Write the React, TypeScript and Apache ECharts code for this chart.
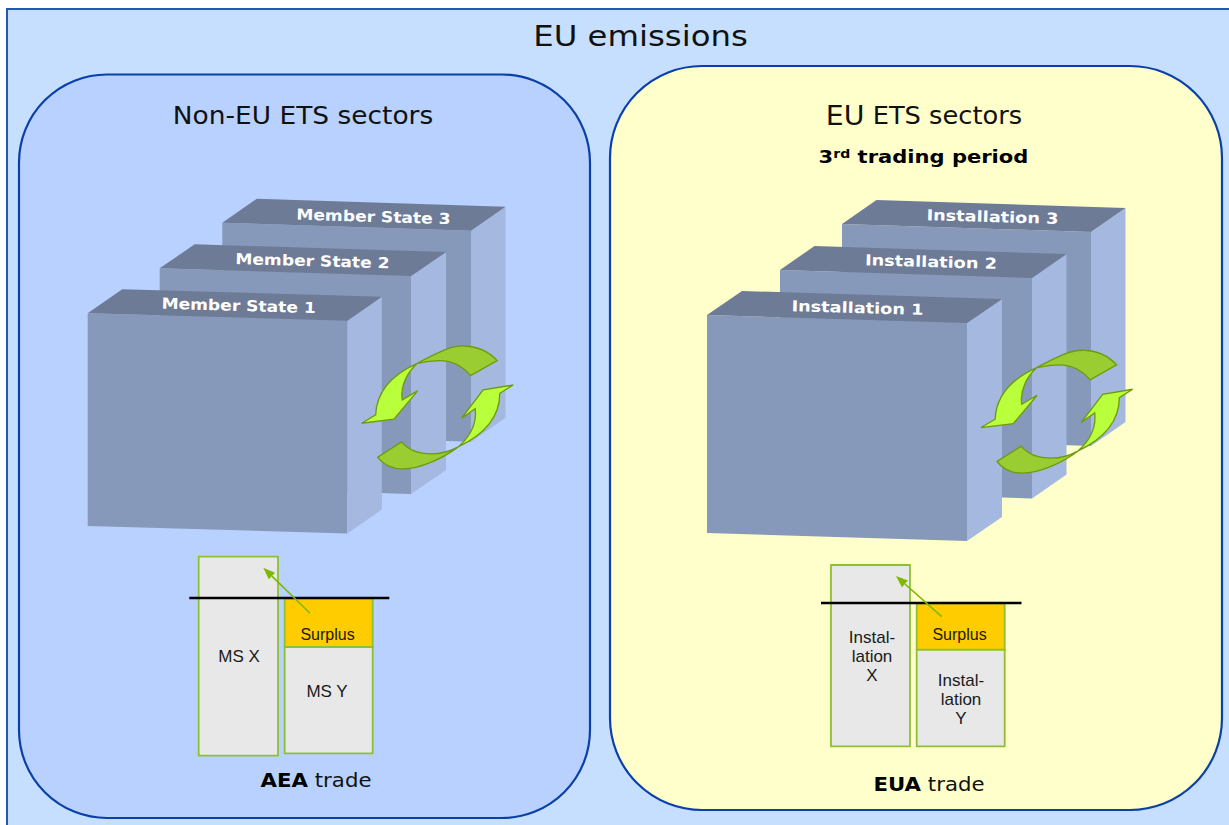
import React, { useEffect, useRef } from "react";
import * as echarts from "echarts";

const mainTitle = "EU emissions";
const leftTitle = "Non-EU ETS sectors";
const rightTitleHead = "EU";
const rightTitleTail = " ETS sectors";
const periodOrdinal = "3";
const periodSuffix = "rd";
const periodName = " trading period";
const memberStates = ["Member State 1", "Member State 2", "Member State 3"];
const installations = ["Installation 1", "Installation 2", "Installation 3"];
const surplusLabel = "Surplus";
const msLabels = ["MS X", "MS Y"];
const installXLines = ["Instal-", "lation", "X"];
const installYLines = ["Instal-", "lation", "Y"];
const tradeNames = ["AEA", "EUA"];
const tradeWord = " trade";

const arrowDarkUpper = "M232 100 C 280 75 330 45 375 48 C 420 50 450 68 472 92 L 392 137 C 365 105 335 92 300 92 C 275 92 250 96 232 100 Z";
const arrowLightUpper = "M232 100 C 165 130 110 180 107 255 L 65 280 L 162 268 L 233 183 L 187 210 C 180 165 205 125 232 100 Z";
const arrowDarkLower = "M355 351 C 310 385 240 417 190 417 C 160 418 130 405 113 382 L 185 336 C 205 360 240 372 275 372 C 305 372 335 362 355 351 Z";
const arrowLightLower = "M355 351 C 410 325 480 280 480 190 L 520 165 L 430 180 L 365 265 L 406 236 C 412 285 385 325 355 351 Z";

echarts.graphic.registerShape("arrowDarkUpper", echarts.graphic.extendPath(arrowDarkUpper, {}));
echarts.graphic.registerShape("arrowLightUpper", echarts.graphic.extendPath(arrowLightUpper, {}));
echarts.graphic.registerShape("arrowDarkLower", echarts.graphic.extendPath(arrowDarkLower, {}));
echarts.graphic.registerShape("arrowLightLower", echarts.graphic.extendPath(arrowLightLower, {}));

const VERDANA = "'DejaVu Sans', Verdana, sans-serif";
const ARIAL = "'Liberation Sans', Arial, sans-serif";

function poly(points: number[][], fill: string) {
  return { type: "polygon", shape: { points }, style: { fill } };
}

function box(x0: number, y0: number, x1: number, y1: number, h: number, dx: number, dy: number) {
  return [
    poly([[x0, y0], [x1, y1], [x1, y1 + h], [x0, y0 + h]], "#8799ba"),
    poly([[x1, y1], [x1 + dx, y1 - dy], [x1 + dx, y1 - dy + h], [x1, y1 + h]], "#a4b8e0"),
    poly([[x0, y0], [x0 + dx, y0 - dy], [x1 + dx, y1 - dy], [x1, y1]], "#6d7b97"),
  ];
}

function label(text: string, x: number, y: number, size = 17, font = ARIAL, color = "#1a1a1a", weight: any = "normal", rotation = 0, scaleX = 1) {
  return {
    type: "text",
    x,
    y,
    rotation,
    scaleX,
    style: { text, x: 0, y: 0, fill: color, font: `${weight} ${size}px ${font}`, align: "center", verticalAlign: "middle" },
  };
}

function arrows(x: number, y: number) {
  const common = { x, y, scaleX: 1 / 3, scaleY: 1 / 3 };
  const stroke = { stroke: "#6f9a10", lineWidth: 4 };
  return [
    { type: "arrowDarkUpper", ...common, style: { fill: "#9acd32", ...stroke } },
    { type: "arrowLightUpper", ...common, style: { fill: "#b9ff3c", ...stroke } },
    { type: "arrowDarkLower", ...common, style: { fill: "#9acd32", ...stroke } },
    { type: "arrowLightLower", ...common, style: { fill: "#b9ff3c", ...stroke } },
  ];
}

function barRect(x: number, y: number, w: number, h: number, fill: string) {
  return { type: "rect", shape: { x, y, width: w, height: h }, style: { fill, stroke: "#8fc031", lineWidth: 1.8 } };
}

function thinArrow(x0: number, y0: number, x1: number, y1: number) {
  const a = Math.atan2(y1 - y0, x1 - x0);
  const len = 12;
  const wid = 4.5;
  const bx = x1 - Math.cos(a) * len;
  const by = y1 - Math.sin(a) * len;
  const nx = -Math.sin(a) * wid;
  const ny = Math.cos(a) * wid;
  return [
    { type: "line", shape: { x1: x0, y1: y0, x2: bx, y2: by }, style: { stroke: "#7fb800", lineWidth: 1.6 } },
    poly([[x1, y1], [bx + nx, by + ny], [bx - nx, by - ny]], "#7fb800"),
  ];
}

function blackLine(x0: number, x1: number, y: number) {
  return { type: "line", shape: { x1: x0, y1: y, x2: x1, y2: y }, style: { stroke: "#000000", lineWidth: 2.6 } };
}

function tradeLabel(bold: string, x: number, y: number) {
  return {
    type: "text",
    x,
    y,
    scaleX: 1.12,
    style: {
      text: `{b|${bold}}{r|${tradeWord}}`,
      align: "center",
      verticalAlign: "middle",
      rich: {
        b: { font: `bold 19px ${VERDANA}`, fill: "#000" },
        r: { font: `normal 19px ${VERDANA}`, fill: "#111" },
      },
    },
  };
}

const TILT = -0.029;
const white = "#ffffff";

function buildGraphic() {
  return [
    { type: "rect", shape: { x: 7, y: 9, width: 1240, height: 840 }, style: { fill: "#c6dfff", stroke: "#2058b4", lineWidth: 2 } },
    { type: "rect", shape: { x: 19, y: 74.5, width: 571, height: 743.5, r: 88 }, style: { fill: "#b8d1ff", stroke: "#0a40a8", lineWidth: 2.2 } },
    { type: "rect", shape: { x: 610, y: 66, width: 612, height: 744, r: 92 }, style: { fill: "#ffffcc", stroke: "#0a40a8", lineWidth: 2.2 } },

    label(mainTitle, 640.5, 36, 29, VERDANA, "#111", "normal", 0, 1.115),
    label(leftTitle, 303, 115, 25, VERDANA, "#111", "normal", 0, 1.057),
    {
      type: "text",
      x: 924,
      y: 115.5,
      scaleX: 1.05,
      style: {
        text: `{e|${rightTitleHead}}{t|${rightTitleTail}}`,
        align: "center",
        verticalAlign: "middle",
        rich: {
          e: { font: `normal 27px ${VERDANA}`, fill: "#111" },
          t: { font: `normal 24.5px ${VERDANA}`, fill: "#111" },
        },
      },
    },
    {
      type: "text",
      x: 923.5,
      y: 157,
      scaleX: 1.17,
      style: {
        text: `{a|${periodOrdinal}}{s|${periodSuffix}}{a|${periodName}}`,
        align: "center",
        verticalAlign: "middle",
        rich: {
          a: { font: `bold 18px ${VERDANA}`, fill: "#000" },
          s: { font: `bold 12px ${VERDANA}`, fill: "#000", verticalAlign: "top" },
        },
      },
    },

    // left stacks
    ...box(222.3, 222.7, 471, 230.7, 211, 34.5, 24),
    ...box(159.7, 268.3, 411, 276, 218, 35, 24),
    ...box(87.7, 313.3, 347.3, 320.7, 212.7, 34.5, 24),
    label(memberStates[2], 373.5, 216.7, 15, VERDANA, white, "bold", TILT, 1.14),
    label(memberStates[1], 312.5, 261, 15, VERDANA, white, "bold", TILT, 1.14),
    label(memberStates[0], 238.7, 305.7, 15, VERDANA, white, "bold", TILT, 1.14),
    ...arrows(340, 330),

    // right stacks
    ...box(842, 224, 1091, 232, 214, 34.5, 24),
    ...box(780, 270, 1032, 278, 220.5, 34.5, 24),
    ...box(707, 315, 967, 323, 218, 35, 24),
    label(installations[2], 992.5, 217, 15, VERDANA, white, "bold", TILT, 1.18),
    label(installations[1], 931, 262, 15, VERDANA, white, "bold", TILT, 1.18),
    label(installations[0], 857.5, 308, 15, VERDANA, white, "bold", TILT, 1.18),
    ...arrows(959.5, 334.3),

    // left trade
    barRect(198.7, 556.7, 79.3, 199, "#e8e8e8"),
    barRect(284.7, 647, 88, 106.3, "#e8e8e8"),
    barRect(284.7, 598.3, 88, 48.7, "#ffcc00"),
    blackLine(189.3, 389.3, 598),
    ...thinArrow(310, 613.3, 263.3, 567.7),
    label(msLabels[0], 239, 656),
    label(surplusLabel, 327.5, 634, 16, ARIAL, "#1a1a00"),
    label(msLabels[1], 327, 691),
    tradeLabel(tradeNames[0], 316, 780),

    // right trade
    barRect(831, 565, 79, 181.3, "#e8e8e8"),
    barRect(916.7, 649.7, 88, 96.6, "#e8e8e8"),
    barRect(916.7, 603.3, 88, 46.4, "#ffcc00"),
    blackLine(821, 1021.5, 603),
    ...thinArrow(941.7, 616.7, 896, 576),
    ...installXLines.map((t, i) => label(t, 872, 637.5 + i * 19)),
    label(surplusLabel, 959.5, 634, 16, ARIAL, "#1a1a00"),
    ...installYLines.map((t, i) => label(t, 961, 680 + i * 19)),
    tradeLabel(tradeNames[1], 929, 784),
  ];
}

export default function App() {
  const ref = useRef<HTMLDivElement>(null);
  useEffect(() => {
    const chart = echarts.init(ref.current!, undefined, { renderer: "svg" });
    chart.setOption({
      animation: false,
      backgroundColor: "#ffffff",
      graphic: { elements: buildGraphic() },
    });
    return () => chart.dispose();
  }, []);
  return <div ref={ref} style={{ position: "fixed", left: 0, top: 0, width: 1229, height: 825 }} />;
}
